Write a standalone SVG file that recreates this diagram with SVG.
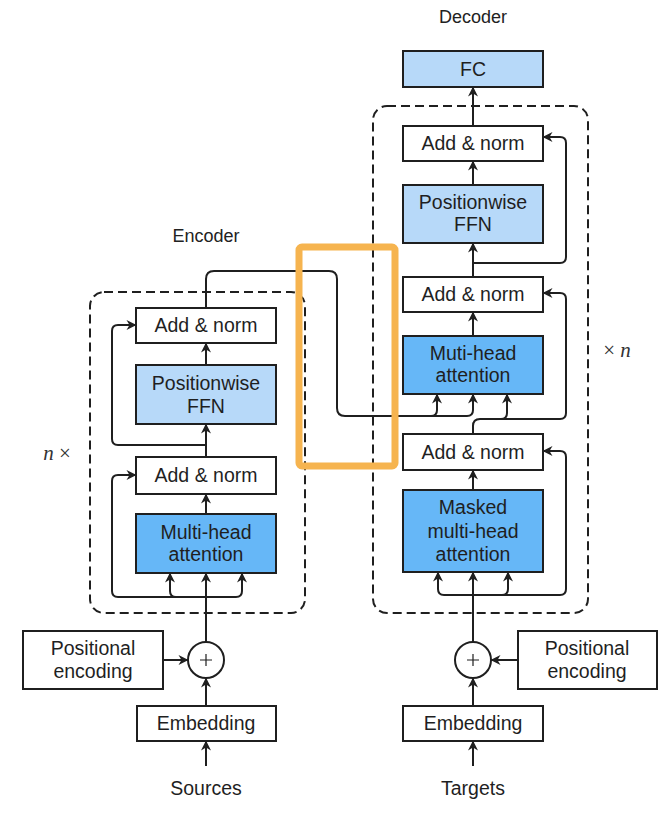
<svg xmlns="http://www.w3.org/2000/svg" width="667" height="820" viewBox="0 0 667 820">
<style>
  .box{stroke:#1f1f1f;stroke-width:2;}
  .white{fill:#ffffff;}
  .dark{fill:#66b7f7;}
  .light{fill:#b7d9f9;}
  .t{font-family:"Liberation Sans",Arial,sans-serif;font-size:19.5px;fill:#1f1f1f;text-anchor:middle;}
  .lbl{font-family:"Liberation Sans",Arial,sans-serif;font-size:18px;fill:#222;text-anchor:middle;}
  .dash{fill:none;stroke:#1f1f1f;stroke-width:2;stroke-dasharray:9 5;}
  .ca{fill:none;stroke:#1f1f1f;stroke-width:2;marker-end:url(#ah);}
  .mul{font-family:"Liberation Serif","Times New Roman",serif;font-size:21px;fill:#333;text-anchor:middle;}
</style>
<defs>
  <marker id="ah" viewBox="0 0 10 10" refX="9.5" refY="5" markerWidth="11" markerHeight="10" markerUnits="userSpaceOnUse" orient="auto">
    <path d="M0,0 L10,5 L0,10 L3,5 z" fill="#1f1f1f"/>
  </marker>
</defs>
<rect width="667" height="820" fill="#ffffff"/>

<!-- titles -->
<text class="lbl" x="206" y="242">Encoder</text>
<text class="lbl" x="473" y="23">Decoder</text>
<text class="mul" x="57" y="460"><tspan font-style="italic">n</tspan> ×</text>
<text class="mul" x="617" y="357">× <tspan font-style="italic">n</tspan></text>

<!-- dashed containers -->
<rect class="dash" x="90" y="292" width="215" height="321" rx="14"/>
<rect class="dash" x="373" y="106" width="215" height="507" rx="14"/>

<!-- connectors -->
<g id="connectors">
  <!-- encoder -->
  <path class="ca" d="M206,766 V741"/>
  <path class="ca" d="M206,706 V678"/>
  <path class="ca" d="M163,660 H188"/>
  <path class="ca" d="M206,642 V573"/>
  <path class="ca" d="M206,597 H118 Q112,597 112,591 V481 Q112,475 118,475 H136"/>
  <path class="ca" d="M206,597 H176 Q170,597 170,591 V573"/>
  <path class="ca" d="M206,597 H236 Q242,597 242,591 V573"/>
  <path class="ca" d="M206,514 V494"/>
  <path class="ca" d="M206,457 V424"/>
  <path class="ca" d="M206,445 H118 Q112,445 112,439 V331 Q112,325 118,325 H136"/>
  <path class="ca" d="M206,365 V343"/>
  <!-- encoder output to decoder -->
  <path class="ca" d="M206,308 V279 Q206,271 214,271 H329 Q337,271 337,279 V408 Q337,416 345,416 H431 Q437,416 437,410 V394"/>
  <path class="ca" d="M431,416 H467 Q473,416 473,410 V394"/>
  <!-- decoder -->
  <path class="ca" d="M473,766 V741"/>
  <path class="ca" d="M473,706 V678"/>
  <path class="ca" d="M518,660 H491"/>
  <path class="ca" d="M473,642 V572"/>
  <path class="ca" d="M473,595 H444 Q438,595 438,589 V572"/>
  <path class="ca" d="M473,595 H502 Q508,595 508,589 V572"/>
  <path class="ca" d="M473,595 H560 Q566,595 566,589 V457 Q566,451 560,451 H543"/>
  <path class="ca" d="M473,490 V470"/>
  <path class="ca" d="M473,434 V426 Q473,419 480,419 H560 Q566,419 566,413 V299 Q566,293 560,293 H543"/>
  <path class="ca" d="M480,419 H501 Q507,419 507,413 V394"/>
  <path class="ca" d="M473,336 V312"/>
  <path class="ca" d="M473,277 V243"/>
  <path class="ca" d="M473,263 H560 Q566,263 566,257 V143 Q566,137 560,137 H543"/>
  <path class="ca" d="M473,185 V161"/>
  <path class="ca" d="M473,126 V87"/>
</g>

<!-- encoder nodes -->
<g id="enc-addnorm2"><rect class="box white" x="136" y="308" width="140" height="35"/><text class="t" x="206" y="332">Add &amp; norm</text></g>
<g id="enc-ffn"><rect class="box light" x="136" y="365" width="140" height="59"/><text class="t" x="206" y="390">Positionwise</text><text class="t" x="206" y="413">FFN</text></g>
<g id="enc-addnorm1"><rect class="box white" x="136" y="457" width="140" height="37"/><text class="t" x="206" y="482">Add &amp; norm</text></g>
<g id="enc-mha"><rect class="box dark" x="136" y="514" width="140" height="59"/><text class="t" x="206" y="539">Multi-head</text><text class="t" x="206" y="561">attention</text></g>
<g id="enc-plus"><circle class="box white" cx="206" cy="660" r="18"/><path d="M200,660 H212 M206,654 V666" stroke="#1f1f1f" stroke-width="1.2"/></g>
<g id="enc-pe"><rect class="box white" x="23" y="631" width="140" height="58"/><text class="t" x="93" y="655">Positional</text><text class="t" x="93" y="678">encoding</text></g>
<g id="enc-emb"><rect class="box white" x="137" y="706" width="139" height="35"/><text class="t" x="206" y="730">Embedding</text></g>
<g id="sources"><text class="t" x="206" y="795">Sources</text></g>

<!-- decoder nodes -->
<g id="dec-fc"><rect class="box light" x="403" y="51" width="140" height="36"/><text class="t" x="473" y="76">FC</text></g>
<g id="dec-addnorm3"><rect class="box white" x="403" y="126" width="140" height="35"/><text class="t" x="473" y="150">Add &amp; norm</text></g>
<g id="dec-ffn"><rect class="box light" x="403" y="185" width="140" height="58"/><text class="t" x="473" y="209">Positionwise</text><text class="t" x="473" y="231">FFN</text></g>
<g id="dec-addnorm2"><rect class="box white" x="403" y="277" width="140" height="35"/><text class="t" x="473" y="301">Add &amp; norm</text></g>
<g id="dec-mha"><rect class="box dark" x="403" y="336" width="140" height="58"/><text class="t" x="473" y="360">Muti-head</text><text class="t" x="473" y="382">attention</text></g>
<g id="dec-addnorm1"><rect class="box white" x="403" y="434" width="140" height="36"/><text class="t" x="473" y="459">Add &amp; norm</text></g>
<g id="dec-mmha"><rect class="box dark" x="403" y="490" width="140" height="82"/><text class="t" x="473" y="514">Masked</text><text class="t" x="473" y="538">multi-head</text><text class="t" x="473" y="561">attention</text></g>
<g id="dec-plus"><circle class="box white" cx="473" cy="660" r="18"/><path d="M467,660 H479 M473,654 V666" stroke="#1f1f1f" stroke-width="1.2"/></g>
<g id="dec-pe"><rect class="box white" x="518" y="631" width="139" height="58"/><text class="t" x="587" y="655">Positional</text><text class="t" x="587" y="678">encoding</text></g>
<g id="dec-emb"><rect class="box white" x="403" y="706" width="140" height="35"/><text class="t" x="473" y="730">Embedding</text></g>
<g id="targets"><text class="t" x="473" y="795">Targets</text></g>

<!-- highlight -->
<g id="highlight"><rect x="299" y="247" width="96" height="219" rx="3" fill="none" stroke="#f6b44f" stroke-width="7"/></g>
</svg>
